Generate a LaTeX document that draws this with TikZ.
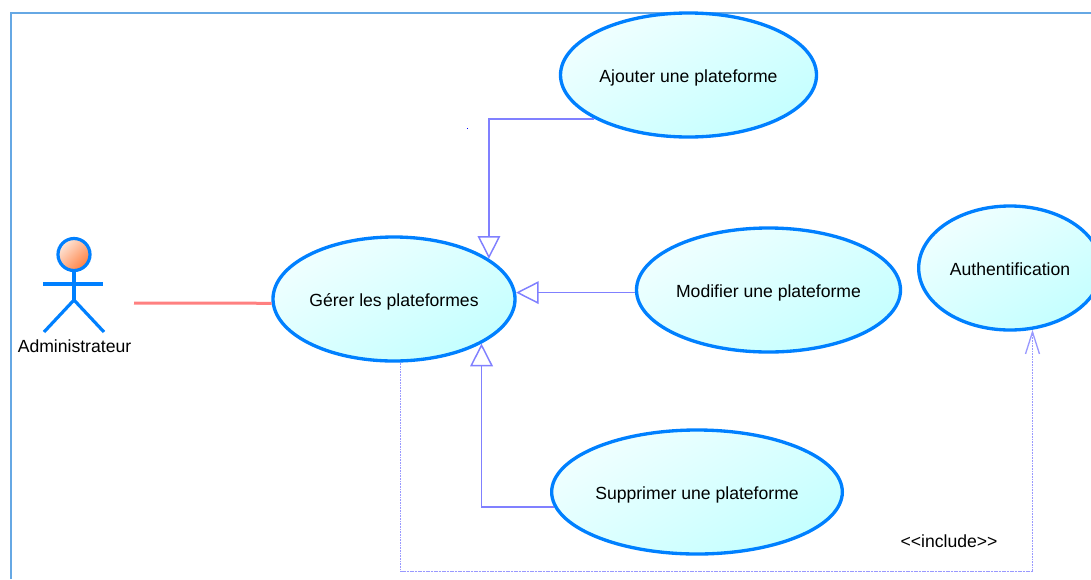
\documentclass[tikz,border=0pt]{standalone}
\usepackage{fontspec}
\setmainfont{Liberation Sans}
\usetikzlibrary{arrows.meta,shapes.geometric,calc}
\definecolor{uborder}{HTML}{0080FF}
\definecolor{ulink}{HTML}{8080FF}
\definecolor{uassoc}{HTML}{FF8080}
\definecolor{uframe}{HTML}{66A8E4}
\definecolor{ucasea}{HTML}{F0FFFF}
\definecolor{ucaseb}{HTML}{C4FFFF}
\definecolor{uheada}{HTML}{FDE8DC}
\definecolor{uheadb}{HTML}{FF7F40}
\tikzset{
  px/.style={x=0.75pt,y=-0.75pt},
  usecase/.style={ellipse,draw=uborder,line width=2.5pt,inner sep=0pt,
    top color=ucasea,bottom color=ucaseb,shading angle=30,
    font=\fontsize{13.2}{15}\selectfont,text=black,text height=14pt,text depth=2.9pt},
  actorline/.style={draw=uborder,line width=2.4pt},
  gen/.style={draw=ulink,line width=1.15pt,-{Triangle[open,fill=white,length=17pt,width=17pt,line width=1.1pt]}},
  inc/.style={draw=ulink!80,line width=0.6pt,dash pattern=on 0.8pt off 0.4pt,-{Straight Barb[length=16.5pt,width=10.5pt,line width=1pt]}},
  assoc/.style={draw=uassoc,line width=2.25pt},
  lbl/.style={font=\fontsize{13.2}{15}\selectfont,text=black,inner sep=0pt},
}
\begin{document}
\begin{tikzpicture}[px]
\useasboundingbox (0,0) rectangle (1091,579);
\clip (0,0) rectangle (1091,579);
\draw[uframe,line width=1.5pt] (11,579) -- (11,12.5) -- (1091,12.5);

\node[usecase,minimum width=192pt,minimum height=93pt] (aj) at (688.5,75) {Ajouter une plateforme};
\node[usecase,minimum width=181.5pt,minimum height=93pt] (ger) at (394,299) {Gérer les plateformes};
\node[usecase,minimum width=198pt,minimum height=93pt] (mod) at (768.5,290) {Modifier une plateforme};
\node[usecase,minimum width=218pt,minimum height=93pt] (sup) at (697,492) {Supprimer une plateforme};
\node[usecase,minimum width=137pt,minimum height=93pt] (auth) at (1010,268) {Authentification};

% actor
\node[circle,draw=uborder,line width=2.4pt,inner sep=0pt,minimum size=24pt,
  top color=uheada,bottom color=uheadb,shading angle=45] (head) at (74,254.5) {};
\coordinate (hip) at (74,300);
\coordinate (armL) at (43,284);
\coordinate (armR) at (103,284);
\coordinate (footL) at (44,332);
\coordinate (footR) at (104,332);
\draw[actorline] (head.south) -- (hip);
\draw[actorline] (armL) -- (armR);
\draw[actorline] (footL) -- (hip) -- (footR);
\node[lbl] (adm) at (74.5,346) {Administrateur};

% connectors
\coordinate (assocstart) at (134,303);
\draw[assoc] (assocstart) -- (ger.182.4);
\draw[gen] (aj.205) -| (ger.23.3);
\coordinate (g3) at (ger.3);
\draw[gen] (g3 -| mod.west) -- (g3);
\draw[gen] (sup.186) -| (ger.-27.5);
\coordinate (incc) at (1000,571);
\draw[inc] (ger.-84) |- (incc) -| (auth.-70);
\node[lbl] (incl) at (949,541) {{<}{<}include{>}{>}};
\fill[blue] (466.5,127.5) rectangle (468,129);
\end{tikzpicture}
\end{document}
